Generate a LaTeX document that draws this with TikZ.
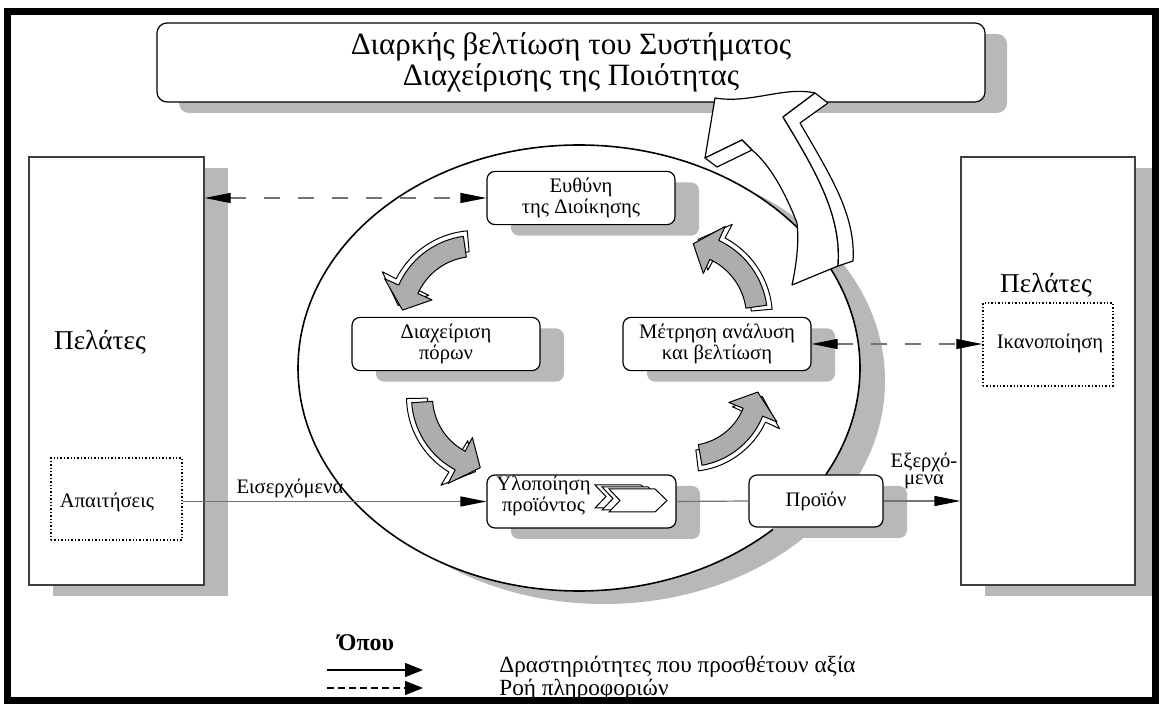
\documentclass[tikz,border=0pt]{standalone}
\usepackage{fontspec}
\setmainfont{Liberation Serif}
\usetikzlibrary{arrows.meta,shadows,calc}
\newcommand\cycpart[3]{%
  \pgfmathsetmacro\cyA{\cta+#3}\pgfmathsetmacro\cyB{\chb+#3}\pgfmathsetmacro\cyC{\ctp+#3}%
  \pgfmathsetmacro\rA{\cR+#2-10.5}\pgfmathsetmacro\rB{\cR+#2+10.5}%
  \pgfmathsetmacro\rC{\cR+#2-26}\pgfmathsetmacro\rD{\cR+#2+26}\pgfmathsetmacro\rE{\cR+#2}%
  \filldraw[fill=#1, draw=black, line width=0.5pt, line join=round]
   plot[domain=\cyA:\cyB, samples=18] (\x:\rA)
   -- (\cyB:\rC) -- (\cyC:\rE) -- (\cyB:\rD)
   -- plot[domain=\cyB:\cyA, samples=18] (\x:\rB) -- cycle;}
\newcommand\cycarrow[5]{%
 \begin{scope}[shift={(#1,#2)}]
  \pgfmathsetmacro\cta{#3}\pgfmathsetmacro\ctp{#4}\pgfmathsetmacro\chb{#4+17}\pgfmathsetmacro\cR{#5}%
  \cycpart{white}{5}{3}%
  \cycpart{black!32}{0}{0}%
 \end{scope}}
\newcommand\chev[2]{\filldraw[fill=white, draw=black, line width=0.5pt, shift={(#1,#2)}] (0,0) -- (46,0) -- (58,11.5) -- (46,23) -- (0,23) -- (11,11.5) -- cycle;}
\begin{document}
\begin{tikzpicture}[x=0.5pt,y=-0.5pt,
  shad/.style={drop shadow={shadow xshift=12pt, shadow yshift=-5.5pt, fill=black!28, draw=none, opacity=1}},
  box/.style={draw=black, line width=0.6pt, fill=white, rounded corners=4pt, shad},
  tall/.style={draw=black!75, line width=0.6pt, fill=white, shad},
  dotbox/.style={draw=black, densely dotted, line width=0.7pt},
  lbl/.style={font=\fontsize{10.3pt}{10.5pt}\selectfont, align=center},
  conn/.style={draw=black!55, line width=0.6pt},
  dsh/.style={dash pattern=on 8pt off 9pt},
  >={Triangle[length=13pt,width=5pt,color=black]}
]
\useasboundingbox (0,0) rectangle (1160,704);
\fill[white] (0,0) rectangle (1160,704);

% tall customer boxes
\node[tall, minimum width=87.5pt, minimum height=214pt] (lbox) at (116.5,371) {};
\node[font=\fontsize{13.6pt}{14pt}\selectfont] (lpel) at (100,342) {Πελάτες};
\node[dotbox, minimum width=65.5pt, minimum height=41pt] (ap) at (116.5,499) {};
\node[lbl] (aptxt) at (107,502) {Απαιτήσεις};

\node[tall, minimum width=87pt, minimum height=214pt] (rbox) at (1048,371) {};
\node[font=\fontsize{13.6pt}{14pt}\selectfont] (rpel) at (1046,285) {Πελάτες};
\node[dotbox, minimum width=65pt, minimum height=41.5pt] (ik) at (1048,344.5) {};
\node[lbl] (iktxt) at (1050,343) {Ικανοποίηση};

% title box
\node[draw=black, line width=0.6pt, fill=white, rounded corners=5pt,
      drop shadow={shadow xshift=11pt, shadow yshift=-5.5pt, fill=black!28, draw=none, opacity=1},
      minimum width=414pt, minimum height=39.5pt, align=center,
      font=\fontsize{15.5pt}{15.5pt}\selectfont] (title) at (571,62.5)
      {Διαρκής βελτίωση του Συστήματος\\Διαχείρισης της Ποιότητας};

% circle
\fill[black!28] (604,381) ellipse[x radius=281, y radius=223];
\draw[fill=white, line width=0.8pt] (579,368) ellipse[x radius=281, y radius=223];

% big hollow arrow
\filldraw[fill=white, draw=black, line width=0.6pt, line join=round]
  (715,98) .. controls (750,104) and (785,86) .. (815,93)
  -- (783,117)
  .. controls (815,170) and (842,215) .. (838,266)
  -- (792,285)
  .. controls (797,262) and (799,240) .. (797,223)
  .. controls (785,192) and (770,165) .. (752,150)
  -- (742,140) -- (705,158) -- cycle;
\filldraw[fill=white, draw=black, line width=0.6pt, line join=round]
  (815,93) -- (828,103) -- (800,123)
  .. controls (830,175) and (856,215) .. (853,261)
  -- (838,266)
  .. controls (842,215) and (815,170) .. (783,117) -- cycle;
\filldraw[fill=white, draw=black, line width=0.6pt, line join=round]
  (705,158) -- (717,167) -- (752,150) -- (742,140) -- cycle;

% process boxes
\node[box, lbl, minimum width=94pt, minimum height=25pt] (ev) at (581,198) {Ευθύνη\\της Διοίκησης};
\node[box, lbl, minimum width=94pt, minimum height=26pt] (dp) at (446,344) {Διαχείριση\\πόρων};
\node[box, lbl, minimum width=94pt, minimum height=26pt] (me) at (717,344) {Μέτρηση ανάλυση\\και βελτίωση};
\node[box, minimum width=94.5pt, minimum height=26.5pt] (yl) at (581.5,501.5) {};
\node[lbl] (yltxt) at (543.5,496) {Υλοποίηση\\προϊόντος};
\chev{595}{485}
\chev{602}{487}
\chev{609}{489}
\node[box, lbl, minimum width=67pt, minimum height=26pt] (pr) at (816,501) {Προϊόν};

% cycle arrows
\cycarrow{475}{319}{262}{187}{73}
\cycarrow{494}{397}{176}{101}{72}
\cycarrow{688}{386}{80}{5}{70}
\cycarrow{683}{317}{-8}{-82}{74}

% connectors
\draw[conn, dsh, <->] (ev.west -| lbox.east) -- (ev.west);
\draw[conn, dsh, <->] (me.east) -- (me.east -| ik.west);
\draw[conn, ->] (yl.west -| ap.east) -- (yl.west);
\draw[conn] (yl.east) -- (pr.west);
\draw[conn, ->] (pr.east) -- (pr.east -| rbox.west);
\node[lbl] (eis) at (290,488) {Εισερχόμενα};
\node[font=\fontsize{10.3pt}{8.8pt}\selectfont, align=center] (exer) at (924,471) {Εξερχό-\\μενα};

% legend
\node[font=\bfseries\fontsize{12pt}{12pt}\selectfont] (opou) at (366,643) {Όπου};
\coordinate (la1) at (327,670);
\coordinate (la2) at (423,670);
\coordinate (lb1) at (327,688);
\coordinate (lb2) at (423,688);
\draw[line width=0.7pt, -{Triangle[length=9pt,width=7pt]}] (la1) -- (la2);
\draw[line width=0.7pt, dash pattern=on 3.5pt off 2pt, -{Triangle[length=9pt,width=7pt]}] (lb1) -- (lb2);
\node[anchor=west, inner sep=0pt, font=\fontsize{11.6pt}{11.6pt}\selectfont] (lt1) at (499,667) {Δραστηριότητες που προσθέτουν αξία};
\node[anchor=west, inner sep=0pt, font=\fontsize{11.6pt}{11.6pt}\selectfont] (lt2) at (499,690) {Ροή πληροφοριών};

% frame
\draw[line width=3.75pt] (7.5,11.5) rectangle (1155.5,700.5);
\end{tikzpicture}
\end{document}
